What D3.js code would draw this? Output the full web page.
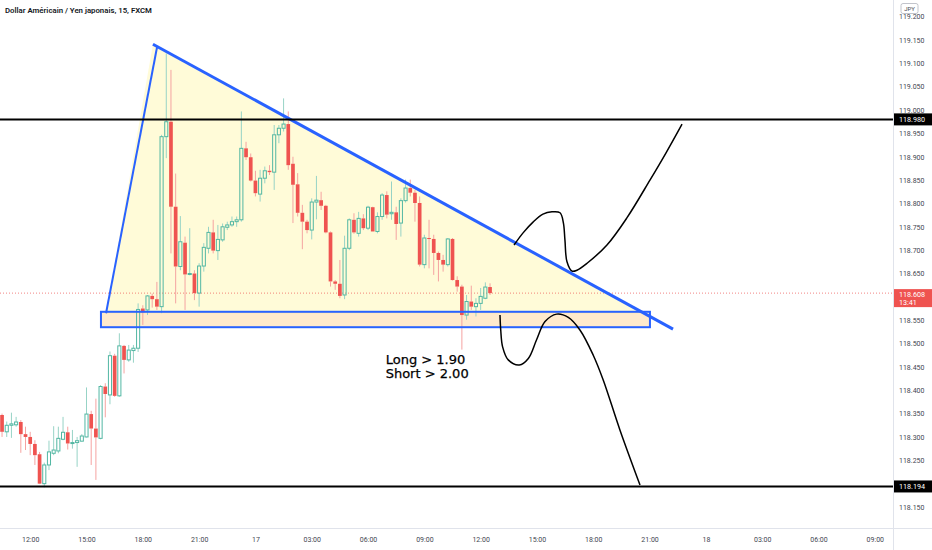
<!DOCTYPE html>
<html lang="en">
<head>
<meta charset="UTF-8">
<title>Dollar Américain / Yen japonais, 15</title>
<script src="https://d3js.org/d3.v7.min.js"></script>
<style>
  body { margin: 0; background: #fff; }
  svg text { font-family: Roboto, "Noto Sans", sans-serif; }
</style>
</head>
<body>
<div id="chart"></div>
<script>
// 15 min bars, first one 16 Mar 2022 10:30 UTC
const firstBar = Date.UTC(2022, 2, 16, 10, 30);
const barMs = 15 * 60 * 1000;

const opens = [
  118.347, 118.311, 118.325, 118.326, 118.332, 118.306, 118.300, 118.285, 118.263, 118.200,
  118.240, 118.265, 118.270, 118.295, 118.310, 118.287, 118.288, 118.291, 118.300, 118.349,
  118.318, 118.297, 118.408, 118.390, 118.474, 118.388, 118.495, 118.465, 118.485, 118.490,
  118.575, 118.572, 118.602, 118.595, 118.579, 118.943, 118.975, 118.793, 118.665, 118.716,
  118.648, 118.650, 118.608, 118.666, 118.704, 118.738, 118.699, 118.722, 118.749, 118.754,
  118.761, 118.765, 118.918, 118.899, 118.849, 118.820, 118.854, 118.870, 118.867, 118.947,
  118.961, 118.970, 118.885, 118.841, 118.780, 118.761, 118.743, 118.803, 118.807, 118.795,
  118.738, 118.633, 118.628, 118.604, 118.704, 118.765, 118.736, 118.768, 118.747, 118.792,
  118.740, 118.772, 118.818, 118.778, 118.781, 118.758, 118.806, 118.833, 118.823, 118.801,
  118.669, 118.726, 118.724, 118.694, 118.679, 118.669, 118.724, 118.636, 118.622, 118.561,
  118.590, 118.579, 118.586, 118.597, 118.621
];
const highs = [
  118.350, 118.333, 118.352, 118.343, 118.336, 118.322, 118.311, 118.293, 118.268, 118.245,
  118.292, 118.323, 118.322, 118.343, 118.322, 118.315, 118.300, 118.306, 118.406, 118.356,
  118.382, 118.411, 118.415, 118.483, 118.478, 118.522, 118.497, 118.497, 118.497, 118.586,
  118.582, 118.604, 118.607, 118.632, 118.947, 119.121, 119.086, 118.864, 118.773, 118.729,
  118.747, 118.657, 118.672, 118.715, 118.750, 118.765, 118.754, 118.757, 118.761, 118.772,
  118.772, 118.997, 118.932, 118.907, 118.870, 118.872, 118.879, 118.882, 118.968, 118.968,
  119.025, 118.997, 118.900, 118.865, 118.797, 118.765, 118.811, 118.859, 118.825, 118.797,
  118.740, 118.636, 118.679, 118.731, 118.768, 118.779, 118.782, 118.777, 118.795, 118.793,
  118.781, 118.822, 118.826, 118.847, 118.793, 118.811, 118.851, 118.851, 118.829, 118.815,
  118.733, 118.765, 118.733, 118.697, 118.690, 118.726, 118.726, 118.644, 118.626, 118.604,
  118.624, 118.597, 118.619, 118.631, 118.629
];
const lows = [
  118.300, 118.300, 118.298, 118.322, 118.266, 118.272, 118.261, 118.240, 118.199, 118.192,
  118.229, 118.261, 118.265, 118.293, 118.273, 118.275, 118.236, 118.290, 118.299, 118.240,
  118.208, 118.295, 118.342, 118.370, 118.386, 118.386, 118.436, 118.461, 118.459, 118.482,
  118.540, 118.561, 118.577, 118.572, 118.565, 118.897, 118.693, 118.586, 118.657, 118.572,
  118.646, 118.593, 118.579, 118.654, 118.693, 118.693, 118.679, 118.718, 118.743, 118.750,
  118.750, 118.761, 118.893, 118.847, 118.815, 118.804, 118.843, 118.861, 118.829, 118.929,
  118.954, 118.872, 118.758, 118.772, 118.702, 118.736, 118.723, 118.766, 118.786, 118.736,
  118.622, 118.615, 118.597, 118.595, 118.700, 118.735, 118.729, 118.743, 118.743, 118.740,
  118.736, 118.765, 118.768, 118.765, 118.722, 118.729, 118.802, 118.815, 118.761, 118.665,
  118.661, 118.661, 118.647, 118.633, 118.654, 118.665, 118.635, 118.611, 118.487, 118.551,
  118.572, 118.558, 118.572, 118.595, 118.604
];
const closes = [
  118.311, 118.325, 118.328, 118.332, 118.306, 118.300, 118.285, 118.261, 118.200, 118.240,
  118.268, 118.272, 118.297, 118.310, 118.286, 118.288, 118.292, 118.302, 118.349, 118.318,
  118.299, 118.408, 118.392, 118.474, 118.388, 118.495, 118.465, 118.486, 118.490, 118.573,
  118.567, 118.602, 118.595, 118.579, 118.943, 118.975, 118.793, 118.665, 118.718, 118.648,
  118.650, 118.608, 118.666, 118.706, 118.738, 118.699, 118.723, 118.750, 118.754, 118.761,
  118.765, 118.918, 118.899, 118.849, 118.822, 118.854, 118.870, 118.867, 118.947, 118.961,
  118.970, 118.882, 118.840, 118.780, 118.761, 118.743, 118.803, 118.807, 118.795, 118.738,
  118.633, 118.628, 118.602, 118.704, 118.765, 118.738, 118.768, 118.747, 118.792, 118.740,
  118.772, 118.818, 118.776, 118.781, 118.756, 118.806, 118.833, 118.823, 118.801, 118.669,
  118.726, 118.724, 118.694, 118.679, 118.669, 118.724, 118.636, 118.622, 118.561, 118.590,
  118.579, 118.586, 118.601, 118.621, 118.608
];

// axis ticks (118.200 and 118.600 sit under the price tags, so they are not drawn)
const priceTicks = [118.15, 118.25, 118.30, 118.35, 118.40, 118.45, 118.50, 118.55, 118.65,
  118.70, 118.75, 118.80, 118.85, 118.90, 118.95, 119.00, 119.05, 119.10, 119.15, 119.20];
const timeTickHours = [0, 3, 6, 9, 12, 15, 18, 21, 24, 27, 30, 33, 36, 39, 42, 45]; // from 16 Mar 12:00
const timeLabels = ["12:00", "15:00", "18:00", "21:00", "17", "03:00", "06:00", "09:00",
  "12:00", "15:00", "18:00", "21:00", "18", "03:00", "06:00", "09:00"];

// drawings, as [hours after 16 Mar 12:00, price]
const triangle = [[6.54, 119.141], [4.04, 118.565], [32.65, 118.565]];
const fallingLine = [[6.54, 119.141], [34.25, 118.531]];
const risingLine = [[4.04, 118.565], [6.76, 119.135]];
const zone = [[3.77, 118.568], [33.02, 118.535]];
const levels = [118.980, 118.194];
const lastPrice = 118.608;
const countdown = "13:41";
const bullPath = [[25.78, 118.711], [26.26, 118.737], [26.79, 118.760], [27.32, 118.777], [27.80, 118.782],
  [28.23, 118.780], [28.41, 118.758], [28.49, 118.722], [28.60, 118.675], [28.87, 118.655], [29.13, 118.657],
  [29.67, 118.672], [30.73, 118.711], [31.79, 118.769], [33.02, 118.850], [33.87, 118.908], [34.73, 118.970]];
const bearPath = [[25.03, 118.561], [25.07, 118.529], [25.17, 118.493], [25.47, 118.465], [26.06, 118.454],
  [26.54, 118.468], [26.98, 118.508], [27.43, 118.547], [28.05, 118.563], [28.67, 118.556], [29.29, 118.529],
  [30.00, 118.475], [30.53, 118.422], [31.42, 118.315], [32.49, 118.197]];
const note = { h: 18.94, p: 118.456, lines: ["Long > 1.90", "Short > 2.00"] };

const W = 932, H = 550;
const plotW = 893, plotH = 528;
const noon16 = Date.UTC(2022, 2, 16, 12);
const at = h => new Date(noon16 + h * 3600 * 1000);

const x = d3.scaleUtc().domain([at(0), at(45)]).range([30.2, 874.8]);
const y = d3.scaleLinear().domain([118.15, 119.15]).range([507, 40]);

const bars = opens.map((o, i) => ({
  t: new Date(firstBar + i * barMs), o, h: highs[i], l: lows[i], c: closes[i]
}));

const svg = d3.select("#chart").append("svg")
  .attr("width", W).attr("height", H);
svg.append("rect").attr("width", W).attr("height", H).attr("fill", "#fff");

svg.append("clipPath").attr("id", "plot")
  .append("rect").attr("width", plotW).attr("height", plotH);
const plot = svg.append("g").attr("clip-path", "url(#plot)");

// filled drawings sit under the candles
plot.append("path")
  .attr("d", d3.line()(triangle.map(d => [x(at(d[0])), y(d[1])])) + "Z")
  .attr("fill", "rgba(255,235,59,0.2)");

plot.append("rect")
  .attr("x", x(at(zone[0][0])))
  .attr("y", y(zone[0][1]))
  .attr("width", x(at(zone[1][0])) - x(at(zone[0][0])))
  .attr("height", y(zone[1][1]) - y(zone[0][1]))
  .attr("fill", "rgba(255,152,0,0.2)");

plot.append("line")
  .attr("x1", 0).attr("x2", plotW)
  .attr("y1", y(lastPrice)).attr("y2", y(lastPrice))
  .attr("stroke", "#ef5350").attr("stroke-width", 1)
  .attr("stroke-dasharray", "1,2").attr("opacity", 0.7);

// candles
const step = x(new Date(firstBar + barMs)) - x(new Date(firstBar));
const bw = step * 0.66;
const up = d => d.c >= d.o;

const candle = plot.append("g").selectAll("g")
  .data(bars)
  .join("g");

candle.append("line")
  .attr("x1", d => x(d.t)).attr("x2", d => x(d.t))
  .attr("y1", d => y(d.h)).attr("y2", d => y(Math.max(d.o, d.c)))
  .attr("stroke", d => up(d) ? "#97d3c6" : "#f5a3a1");
candle.append("line")
  .attr("x1", d => x(d.t)).attr("x2", d => x(d.t))
  .attr("y1", d => y(Math.min(d.o, d.c))).attr("y2", d => y(d.l))
  .attr("stroke", d => up(d) ? "#97d3c6" : "#f5a3a1");

candle.filter(d => up(d)).append("rect")
  .attr("x", d => x(d.t) - bw / 2)
  .attr("y", d => y(d.c))
  .attr("width", bw)
  .attr("height", d => Math.max(1, y(d.o) - y(d.c)))
  .attr("fill", "none")
  .attr("stroke", "#52b7a3").attr("stroke-width", 1);

candle.filter(d => !up(d)).append("rect")
  .attr("x", d => x(d.t) - bw / 2 - 0.3)
  .attr("y", d => y(d.o))
  .attr("width", bw + 0.6)
  .attr("height", d => Math.max(1, y(d.c) - y(d.o)))
  .attr("fill", "#ef5350");

// line drawings on top
plot.append("rect")
  .attr("x", x(at(zone[0][0])))
  .attr("y", y(zone[0][1]))
  .attr("width", x(at(zone[1][0])) - x(at(zone[0][0])))
  .attr("height", y(zone[1][1]) - y(zone[0][1]))
  .attr("fill", "none")
  .attr("stroke", "#2962ff").attr("stroke-width", 2);

const seg = d3.line().x(d => x(at(d[0]))).y(d => y(d[1]));
plot.append("path").attr("d", seg(risingLine))
  .attr("stroke", "#2962ff").attr("stroke-width", 2).attr("fill", "none");
plot.append("path").attr("d", seg(fallingLine))
  .attr("stroke", "#2962ff").attr("stroke-width", 3).attr("fill", "none");

plot.selectAll(".level")
  .data(levels)
  .join("line")
  .attr("class", "level")
  .attr("x1", 0).attr("x2", plotW)
  .attr("y1", d => y(d)).attr("y2", d => y(d))
  .attr("stroke", "#000").attr("stroke-width", 2);

const curve = d3.line().x(d => x(at(d[0]))).y(d => y(d[1])).curve(d3.curveCatmullRom.alpha(0.5));
[bullPath, bearPath].forEach(p => {
  plot.append("path").attr("d", curve(p))
    .attr("fill", "none").attr("stroke", "#000").attr("stroke-width", 1.5);
});

// two separate lines so they do not share a box
note.lines.forEach((line, i) => {
  plot.append("text")
    .attr("x", x(at(note.h))).attr("y", y(note.p) + i * 14)
    .style("font-family", "'DejaVu Sans', Verdana, sans-serif")
    .style("font-size", "13px")
    .attr("fill", "#000")
    .attr("stroke", "#000").attr("stroke-width", 0.25)
    .text(line);
});

// title
svg.append("text")
  .attr("x", 5).attr("y", 13)
  .style("font-size", "7.8px").style("font-weight", "600")
  .attr("fill", "#131722")
  .text("Dollar Américain / Yen japonais, 15, FXCM");

// price axis
svg.append("line")
  .attr("x1", plotW + 0.5).attr("x2", plotW + 0.5)
  .attr("y1", 0).attr("y2", H)
  .attr("stroke", "#e0e3eb");
svg.append("line")
  .attr("x1", 0).attr("x2", W)
  .attr("y1", plotH + 0.5).attr("y2", plotH + 0.5)
  .attr("stroke", "#e0e3eb");

const yAxis = svg.append("g")
  .attr("transform", `translate(${plotW},0)`)
  .call(d3.axisRight(y).tickValues(priceTicks).tickSize(0).tickPadding(6).tickFormat(d3.format(".3f")));
yAxis.select(".domain").remove();
yAxis.selectAll("text").attr("fill", "#434651").style("font-size", "7px").style("font-family", "Roboto, sans-serif");

const xAxis = svg.append("g")
  .attr("transform", `translate(0,${plotH})`)
  .call(d3.axisBottom(x).tickValues(timeTickHours.map(at)).tickSize(0).tickPadding(9)
    .tickFormat((d, i) => timeLabels[i]));
xAxis.select(".domain").remove();
xAxis.selectAll("text").attr("fill", "#434651").style("font-size", "7px").style("font-family", "Roboto, sans-serif");

// price labels on the axis
const tags = svg.append("g");
levels.forEach(p => {
  tags.append("rect")
    .attr("x", plotW + 1).attr("y", y(p) - 6).attr("width", W - plotW).attr("height", 12)
    .attr("fill", "#000");
  tags.append("text")
    .attr("x", plotW + 6).attr("y", y(p)).attr("dy", "0.35em")
    .attr("fill", "#fff").style("font-size", "7.2px")
    .text(d3.format(".3f")(p));
});
tags.append("rect")
  .attr("x", plotW + 1).attr("y", y(lastPrice) - 4).attr("width", W - plotW).attr("height", 18)
  .attr("fill", "#ef5350");
tags.append("text")
  .attr("x", plotW + 6).attr("y", y(lastPrice) + 1.5).attr("dy", "0.35em")
  .attr("fill", "#fff").style("font-size", "7.2px")
  .text(d3.format(".3f")(lastPrice));
tags.append("text")
  .attr("x", plotW + 6).attr("y", y(lastPrice) + 9.5).attr("dy", "0.35em")
  .attr("fill", "#fff").style("font-size", "7.2px")
  .text(countdown);

// currency badge
tags.append("rect")
  .attr("x", 901).attr("y", 3.5).attr("width", 17).attr("height", 10).attr("rx", 2)
  .attr("fill", "#fff").attr("stroke", "#b2b5be").attr("stroke-width", 0.8);
tags.append("text")
  .attr("x", 909.5).attr("y", 8.5).attr("dy", "0.35em").attr("text-anchor", "middle")
  .attr("fill", "#434651").style("font-size", "6px")
  .text("JPY");
</script>
</body>
</html>
